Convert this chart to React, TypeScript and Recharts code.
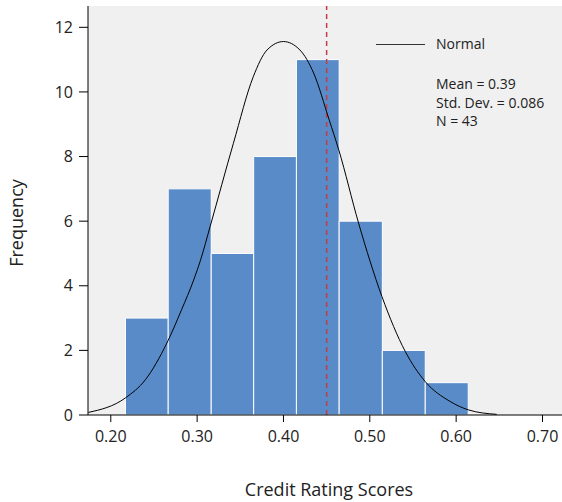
import {
  ComposedChart,
  Line,
  XAxis,
  YAxis,
  CartesianGrid,
  ReferenceArea,
  ReferenceLine,
  Label,
} from 'recharts';

// histogram bins (left edge, right edge) and counts
const binStart = [0.217, 0.2665, 0.3163, 0.3655, 0.415, 0.4645, 0.5145, 0.5642];
const binEnd = [0.2665, 0.3163, 0.3655, 0.415, 0.4645, 0.5145, 0.5642, 0.614];
const counts = [3, 7, 5, 8, 11, 6, 2, 1];

// normal curve
const curveX = [
  0.174, 0.217, 0.24, 0.265, 0.282, 0.296, 0.304, 0.315, 0.342, 0.365, 0.381,
  0.4, 0.419, 0.435, 0.453, 0.464, 0.487, 0.514, 0.541, 0.564, 0.593, 0.614,
  0.647,
];
const curveY = [
  0.08, 0.53, 1.09, 2.23, 3.26, 4.18, 4.8, 5.83, 8.41, 10.47, 11.3, 11.56,
  11.3, 10.58, 9.13, 8.21, 5.94, 3.67, 1.97, 1.04, 0.42, 0.16, 0.02,
];

const xTicks = [0.2, 0.3, 0.4, 0.5, 0.6, 0.7];
const yTicks = [0, 2, 4, 6, 8, 10, 12];
const meanLine = 0.45;

const stats = ['Mean = 0.39', 'Std. Dev. = 0.086', 'N = 43'];

const curveData = curveX.map((x, i) => ({ x, y: curveY[i] }));

const FONT = '"Open Sans", sans-serif';
const BAR_COLOR = '#588BC7';

export default function App() {
  return (
    <div style={{ position: 'relative', width: 562, height: 502, fontFamily: FONT }}>
      <style>{'body{margin:0}'}</style>
      <ComposedChart
        width={562}
        height={502}
        data={curveData}
        margin={{ top: 6, right: 0, left: 0, bottom: 0 }}
      >
        <CartesianGrid fill="#F0F0F0" horizontal={false} vertical={false} />
        <XAxis
          type="number"
          dataKey="x"
          domain={[0.1736, 0.7226]}
          allowDataOverflow
          ticks={xTicks}
          tickFormatter={(v) => v.toFixed(2)}
          height={87}
          tickSize={7}
          tickMargin={9}
          stroke="#000"
          tick={{ fill: '#222', fontSize: 16, fontFamily: FONT }}
        >
          <Label
            value="Credit Rating Scores"
            position="insideBottom"
            offset={6}
            dx={4}
            style={{ fill: '#222', fontSize: 18, fontFamily: FONT }}
          />
        </XAxis>
        <YAxis
          type="number"
          domain={[0, 12.66]}
          allowDataOverflow
          ticks={yTicks}
          width={88}
          tickSize={9}
          tickMargin={6}
          stroke="#000"
          tick={{ fill: '#222', fontSize: 16, fontFamily: FONT }}
          label={{
            content: () => (
              <text
                x={16}
                y={223}
                transform="rotate(-90 16 223)"
                textAnchor="middle"
                dominantBaseline="central"
                style={{ fill: '#222', fontSize: 18, fontFamily: FONT }}
              >
                Frequency
              </text>
            ),
          }}
        />
        {counts.map((c, i) => (
          <ReferenceArea
            key={i}
            x1={binStart[i]}
            x2={binEnd[i]}
            y1={0}
            y2={c}
            fill={BAR_COLOR}
            fillOpacity={1}
            stroke="#fff"
            strokeWidth={1}
            ifOverflow="hidden"
          />
        ))}
        <ReferenceLine
          x={meanLine}
          stroke="#C43C48"
          strokeWidth={1.5}
          strokeDasharray="5 4"
        />
        <Line
          type="monotone"
          dataKey="y"
          stroke="#000"
          strokeWidth={1}
          dot={false}
          activeDot={false}
          isAnimationActive={false}
        />
      </ComposedChart>

      <div
        style={{
          position: 'absolute',
          left: 376,
          top: 34,
          width: 186,
          fontSize: 14,
          color: '#222',
          lineHeight: '18.5px',
        }}
      >
        <div style={{ display: 'flex', alignItems: 'center', height: 20 }}>
          <div style={{ width: 49, height: 1, background: '#333', marginRight: 11 }} />
          <span>Normal</span>
        </div>
        <div style={{ marginLeft: 60, marginTop: 21 }}>
          {stats.map((s) => (
            <div key={s}>{s}</div>
          ))}
        </div>
      </div>
    </div>
  );
}
